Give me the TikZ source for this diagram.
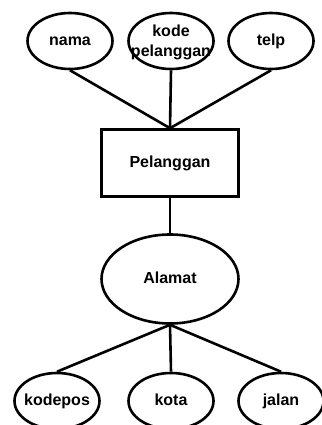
\documentclass[tikz,border=0pt]{standalone}
\usepackage{fontspec}
\setmainfont{Liberation Sans}
\usetikzlibrary{shapes.geometric}

\begin{document}
\begin{tikzpicture}[x=1pt, y=-1pt,
  attr/.style={ellipse, draw, line width=2.6pt, minimum width=85pt, minimum height=56pt,
    inner xsep=-25pt, inner ysep=0pt, align=center, font=\bfseries\fontsize{16}{20}\selectfont},
  oneline/.style={text height=11.5pt, text depth=3.4pt},
  entity/.style={rectangle, draw, line width=2.6pt, minimum width=137pt, minimum height=67pt,
    inner sep=0pt, font=\bfseries\fontsize{16}{20}\selectfont},
  link/.style={line width=2.6pt}]
\useasboundingbox (0,0) rectangle (321,425);

% Entity
\node[entity] (pelanggan) at (170,163) {Pelanggan};

% Attributes of Pelanggan
\node[attr, oneline] (nama) at (70,41) {nama};
\node[attr, text depth=0pt] (kode) at (171,41) {kode\\pelanggan};
\node[attr, oneline] (telp) at (271,41) {telp};

% Composite attribute
\node[attr, oneline, minimum width=137pt, minimum height=89pt] (alamat) at (170,279) {Alamat};

% Parts of Alamat
\node[attr, oneline] (kodepos) at (57,401) {kodepos};
\node[attr, oneline] (kota) at (171,401) {kota};
\node[attr, oneline] (jalan) at (281,401) {jalan};

% Connectors
\draw[link] (nama.south) -- (pelanggan.north);
\draw[link] (kode.south) -- (pelanggan.north);
\draw[link] (telp.south) -- (pelanggan.north);
\draw[link] (pelanggan.south) -- (alamat.north);
\draw[link] (alamat.south) -- (kodepos.north);
\draw[link] (alamat.south) -- (kota.north);
\draw[link] (alamat.south) -- (jalan.north);
\end{tikzpicture}
\end{document}
